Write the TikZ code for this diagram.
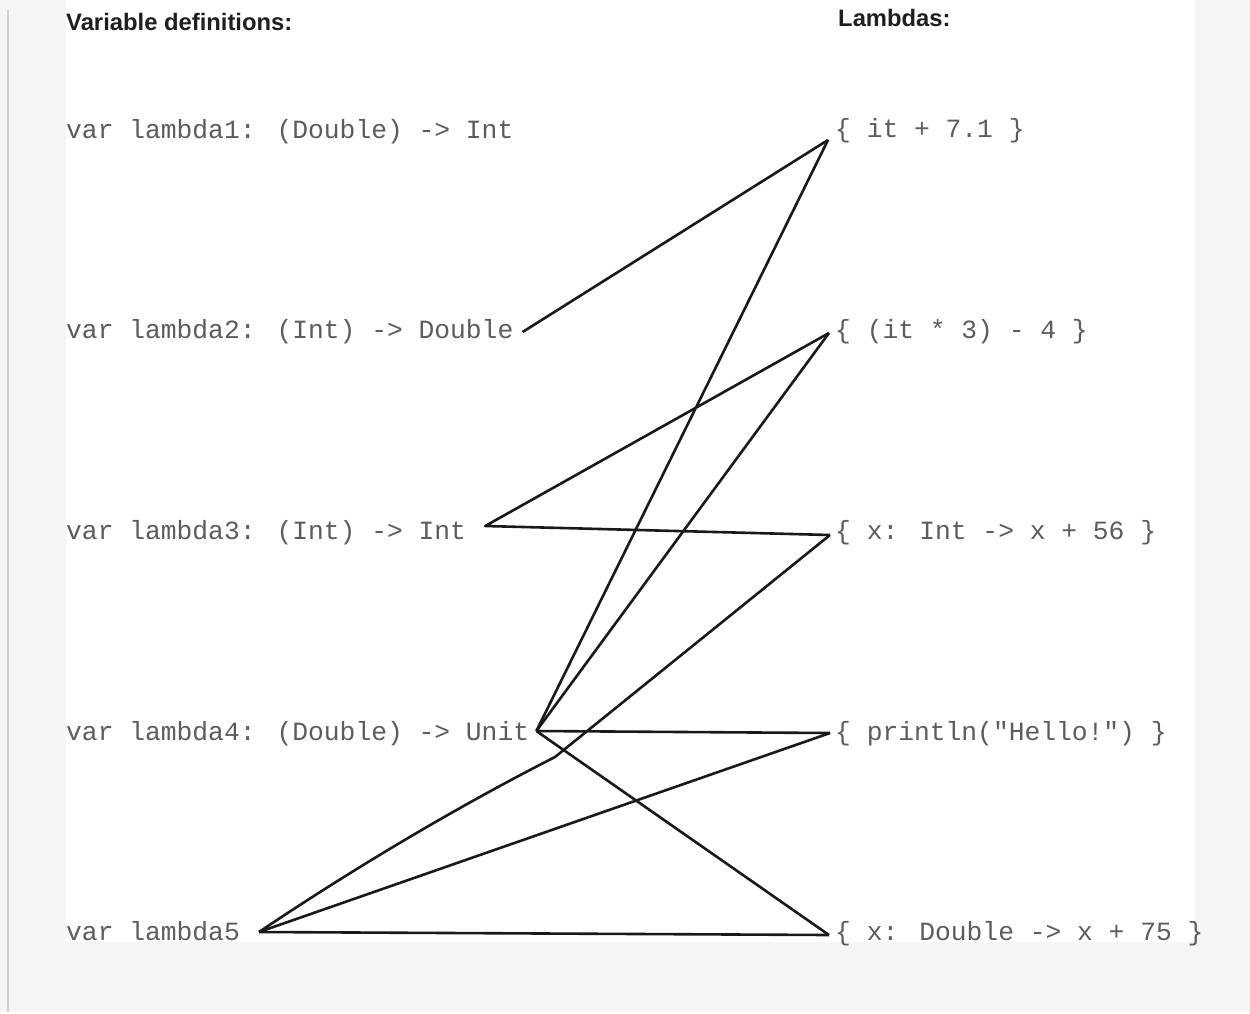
\documentclass[tikz,border=0pt]{standalone}
\usepackage{fontspec}
\newfontfamily\headfont{Liberation Sans}
\newfontfamily\codefont{Liberation Mono}
\usepackage{tikz}
\usetikzlibrary{calc}
\definecolor{pagegray}{RGB}{245,245,245}
\definecolor{rulegray}{RGB}{208,208,208}
\definecolor{codegray}{RGB}{92,92,92}

\begin{document}
\begin{tikzpicture}[x=1pt,y=-1pt,
  head/.style={anchor=base west, inner sep=0pt, text=black!88,
    font=\headfont\bfseries\fontsize{23.8}{27}\selectfont},
  code/.style={anchor=base west, inner sep=0pt, text=codegray,
    font=\codefont\fontsize{26.3}{30}\selectfont},
  link/.style={line width=2.6pt, draw=black!90, line join=round}
]
  % page
  \fill[pagegray] (0,0) rectangle (1250,1012);
  \fill[white] (66,0) rectangle (1195,942);
  \draw[rulegray, line width=2pt] (8,10) -- (8,1012);
  \useasboundingbox (0,0) rectangle (1250,1012);

  % headings
  \node[head] (defs) at (66,30) {Variable definitions:};
  \node[head] (lams) at (838,26) {Lambdas:};

  % variable definitions
  \node[code] (l1) at (66,138) {var lambda1: (Double) -> Int};
  \node[code] (l2) at (66,338) {var lambda2: (Int) -> Double};
  \node[code] (l3) at (66,539) {var lambda3: (Int) -> Int};
  \node[code] (l4) at (66,740) {var lambda4: (Double) -> Unit};
  \node[code] (l5) at (66,940) {var lambda5};

  % lambdas
  \node[code] (r1) at (835,137) {\{ it + 7.1 \}};
  \node[code] (r2) at (835,338) {\{ (it * 3) - 4 \}};
  \node[code] (r3) at (835,539) {\{ x: Int -> x + 56 \}};
  \node[code] (r4) at (835,740) {\{ println("Hello!") \}};
  \node[code] (r5) at (835,940) {\{ x: Double -> x + 75 \}};

  % line ends
  \coordinate (l2p) at ([shift={(9,-6)}]l2.base east);
  \coordinate (l3p) at ([shift={(19,-13)}]l3.base east);
  \coordinate (l4p) at ([shift={(7,-9)}]l4.base east);
  \coordinate (l5p) at ([shift={(19,-8)}]l5.base east);
  \coordinate (r1p) at ([shift={(-7,3)}]r1.base west);
  \coordinate (r2p) at ([shift={(-6,-5)}]r2.base west);
  \coordinate (r3p) at ([shift={(-5,-4)}]r3.base west);
  \coordinate (r4p) at ([shift={(-5,-7)}]r4.base west);
  \coordinate (r5p) at ([shift={(-6,-5)}]r5.base west);

  % matches
  \draw[link] (l2p) -- (r1p);
  \draw[link] (r1p) -- (l4p);
  \draw[link] (r2p) -- (l3p) -- (r3p);
  \draw[link] (r2p) -- (l4p);
  \draw[link] (l4p) -- (r4p);
  \draw[link] (l4p) -- (r5p);
  \draw[link] (r3p) -- ($(r3p)+(-275,222)$) coordinate (bend)
    .. controls ($(bend)+(-45,23)$) and ($(l5p)+(140,-94)$) .. (l5p);
  \draw[link] (l5p) -- (r4p);
  \draw[link] (l5p) -- (r5p);
\end{tikzpicture}
\end{document}
